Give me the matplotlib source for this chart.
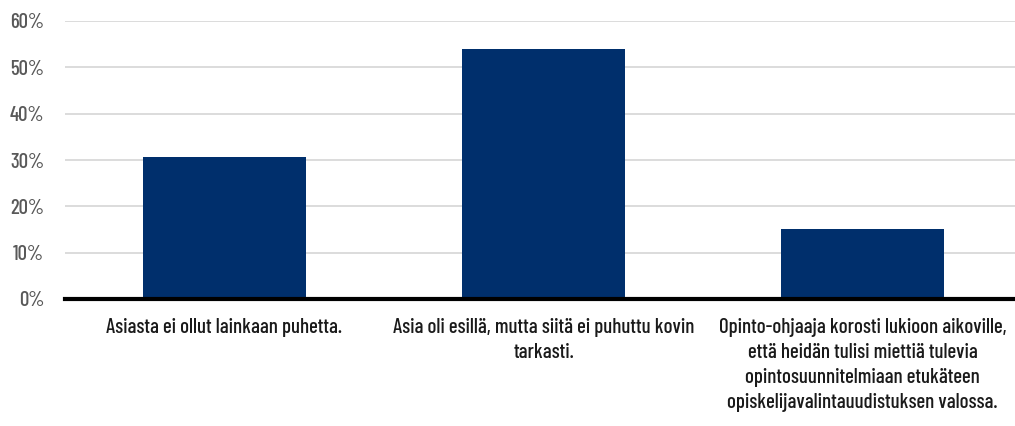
import matplotlib.pyplot as plt
import matplotlib.ticker as mticker

# ── data ────────────────────────────────────────────────────────────────────
categories = [
    "Asiasta ei ollut lainkaan puhetta.",
    "Asia oli esillä, mutta siitä ei puhuttu kovin\ntarkasti.",
    "Opinto-ohjaaja korosti lukioon aikoville,\nettä heidän tulisi miettiä tulevia\nopintosuunnitelmiaan etukäteen\nopiskelijavalintauudistuksen valossa.",
]
values = [30.6, 54.0, 15.2]
yticks = [0, 10, 20, 30, 40, 50, 60]

plt.rcParams["font.family"] = ["Barlow Condensed", "Asap Condensed", "DejaVu Sans"]
plt.rcParams["font.weight"] = 500

BAR = "#002F6C"

fig = plt.figure(figsize=(10.15, 4.26), dpi=100)
ax = fig.add_axes([65 / 1015, 1 - 299 / 426, (1022 - 65) / 1015, (299 - 21) / 426])

x = range(len(categories))
ax.bar(x, values, width=0.51, color=BAR, zorder=2)

ax.set_xlim(-0.5, 2.5)
ax.set_ylim(0, 60)
ax.set_yticks(yticks)
ax.yaxis.set_major_formatter(mticker.FuncFormatter(lambda v, _: f"{v:.0f}%"))
ax.set_xticks(list(x))
ax.set_xticklabels(categories, fontsize=15, color="#1a1a1a", linespacing=1.38, va="top")

ax.tick_params(axis="y", length=0, pad=15, labelsize=15, labelcolor="#595959")
ax.tick_params(axis="x", length=0, pad=14)
ax.grid(axis="y", color="#d9d9d9", linewidth=1.3, zorder=0)
ax.set_axisbelow(True)
for s in ["top", "right", "left"]:
    ax.spines[s].set_visible(False)
ax.spines["bottom"].set_color("black")
ax.spines["bottom"].set_linewidth(3)
ax.spines["bottom"].set_zorder(3)

fig.savefig("out.png", dpi=100)
